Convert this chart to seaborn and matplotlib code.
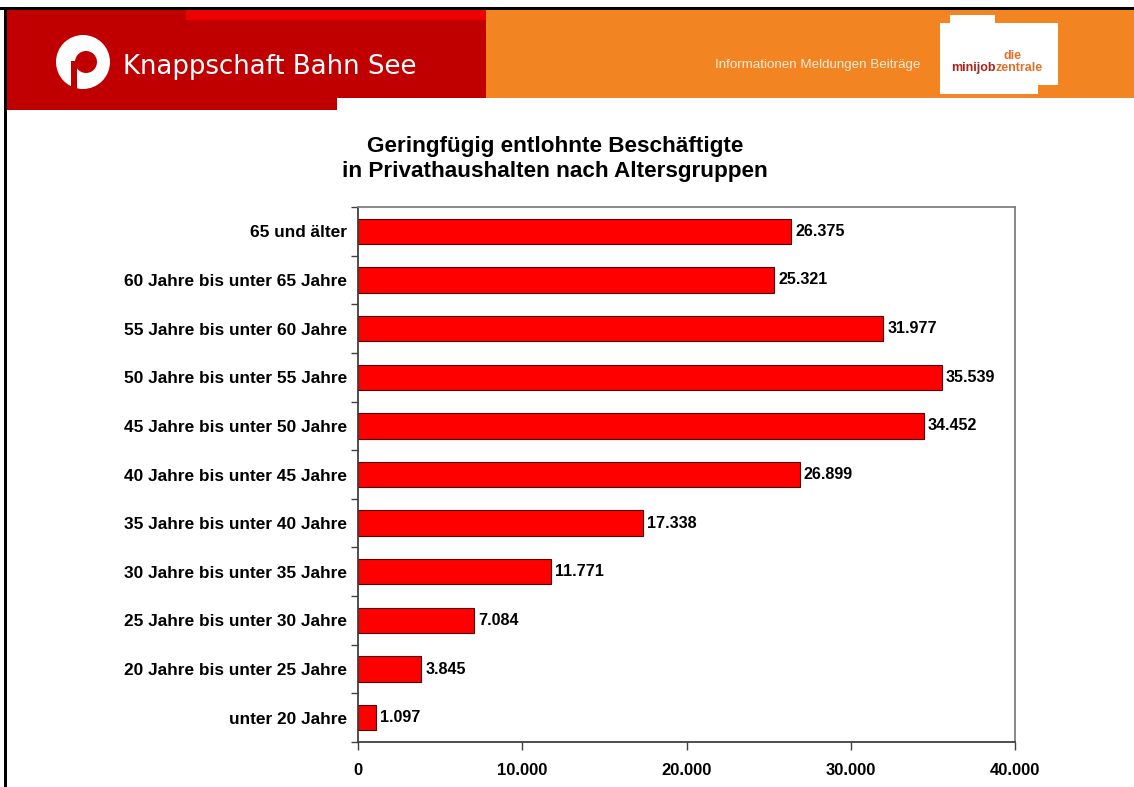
import matplotlib
matplotlib.use("Agg")
import matplotlib.pyplot as plt
import matplotlib.patches as mpatches
import seaborn as sns
import pandas as pd
import numpy as np

categories = [
    "65 und älter",
    "60 Jahre bis unter 65 Jahre",
    "55 Jahre bis unter 60 Jahre",
    "50 Jahre bis unter 55 Jahre",
    "45 Jahre bis unter 50 Jahre",
    "40 Jahre bis unter 45 Jahre",
    "35 Jahre bis unter 40 Jahre",
    "30 Jahre bis unter 35 Jahre",
    "25 Jahre bis unter 30 Jahre",
    "20 Jahre bis unter 25 Jahre",
    "unter 20 Jahre",
]
values = [26375, 25321, 31977, 35539, 34452, 26899, 17338, 11771, 7084, 3845, 1097]
x_ticks = [0, 10000, 20000, 30000, 40000]
x_tick_labels = ["0", "10.000", "20.000", "30.000", "40.000"]
title = "Geringfügig entlohnte Beschäftigte\nin Privathaushalten nach Altersgruppen"

sns.set_theme(style="white")
plt.rcParams['font.family'] = ['Liberation Sans', 'DejaVu Sans']

W, H = 1134, 787
fig = plt.figure(figsize=(W / 100, H / 100), dpi=100)
fig.patch.set_facecolor("white")

def px(x0, y0, w, h, **kw):
    # rectangle in pixel coordinates (top-left origin)
    r = mpatches.Rectangle((x0 / W, 1 - (y0 + h) / H), w / W, h / H,
                           transform=fig.transFigure, **kw)
    fig.add_artist(r)
    return r

# ---- Header ----
px(6, 10, 331, 100, facecolor="#C00000", edgecolor="none")
px(337, 10, 149, 88, facecolor="#C00000", edgecolor="none")
px(186, 10, 300, 10, facecolor="#EE0000", edgecolor="none")
px(486, 10, 648, 88, facecolor="#F28522", edgecolor="none")
# black border top & left
px(0, 7, W, 3, facecolor="black", edgecolor="none")
px(4, 7, 3, H, facecolor="black", edgecolor="none")

# logo circle
cx, cy = 83 / W, 1 - 62 / H
circ = mpatches.Ellipse((cx, cy), 54 / W, 54 / H, transform=fig.transFigure,
                        facecolor="white", edgecolor="none")
fig.add_artist(circ)
inner = mpatches.Ellipse((cx + 3 / W, cy), 22 / W, 22 / H, transform=fig.transFigure,
                         facecolor="#C00000", edgecolor="none")
fig.add_artist(inner)
fig.add_artist(mpatches.Rectangle((cx - 12 / W, cy - 27 / H), 6 / W, 28 / H,
                                  transform=fig.transFigure, facecolor="#C00000", edgecolor="none"))
fig.text(123 / W, 1 - 67 / H, "Knappschaft Bahn See", color="white", fontsize=18.7,
         family=['DejaVu Sans'], va="center", ha="left")

fig.text(818 / W, 1 - 65 / H, "Informationen Meldungen Beiträge", color="#FDEBDB",
         fontsize=9.6, ha="center", va="center")

# minijobzentrale box
px(940, 23, 118, 62, facecolor="white", edgecolor="none")
px(950, 15, 45, 10, facecolor="white", edgecolor="none")
px(940, 84, 98, 10, facecolor="white", edgecolor="none")
fig.text(1012 / W, 1 - 56 / H, "die", color="#E2702A", fontsize=9, fontweight="bold",
         ha="center", va="center")
fig.text(996 / W, 1 - 68 / H, "minijob", color="#A8231B", fontsize=9, fontweight="bold",
         ha="right", va="center")
fig.text(995 / W, 1 - 68 / H, "zentrale", color="#E2702A", fontsize=9, fontweight="bold",
         ha="left", va="center")

# ---- Title ----
fig.text(555 / W, 1 - 159 / H, title, ha="center", va="center", fontsize=16.2,
         fontweight="bold", linespacing=1.3, color="black")

# ---- Chart ----
left, right, top, bottom = 358, 1015, 207, 742
ax = fig.add_axes([left / W, 1 - bottom / H, (right - left) / W, (bottom - top) / H])
df = pd.DataFrame({"Altersgruppe": categories, "Anzahl": values})
sns.barplot(data=df, y="Altersgruppe", x="Anzahl", orient="h", ax=ax,
            color="#FF0000", saturation=1, width=0.52,
            edgecolor="#5A0000", linewidth=0.8)

ax.set_xlim(0, 40000)
ax.set_ylim(len(categories) - 0.5, -0.5)
ax.set_xticks(x_ticks)
ax.set_xticklabels(x_tick_labels, fontsize=12, fontweight="bold", color="black")
ax.set_yticks(range(len(categories)))
ax.set_yticklabels(categories, fontsize=12.4, fontweight="bold", color="black")
ax.set_yticks(np.arange(-0.5, len(categories), 1), minor=True)
ax.tick_params(axis="y", which="major", length=0, pad=8)
ax.tick_params(axis="y", which="minor", length=5, width=1, color="#404040", direction="out", left=True)
ax.tick_params(axis="x", which="major", length=6, width=1, color="#404040", direction="out",
               bottom=True, pad=9)
ax.set_xlabel("")
ax.set_ylabel("")
for s in ax.spines.values():
    s.set_visible(True)
    s.set_color("#808080")
    s.set_linewidth(1.3)
ax.spines["bottom"].set_color("#404040")
ax.spines["left"].set_color("#404040")

for i, v in enumerate(values):
    lab = f"{v:,}".replace(",", ".")
    ax.text(v + 250, i, lab, va="center", ha="left", fontsize=11.6, fontweight="bold",
            color="black")

fig.savefig("out.png", dpi=100)
